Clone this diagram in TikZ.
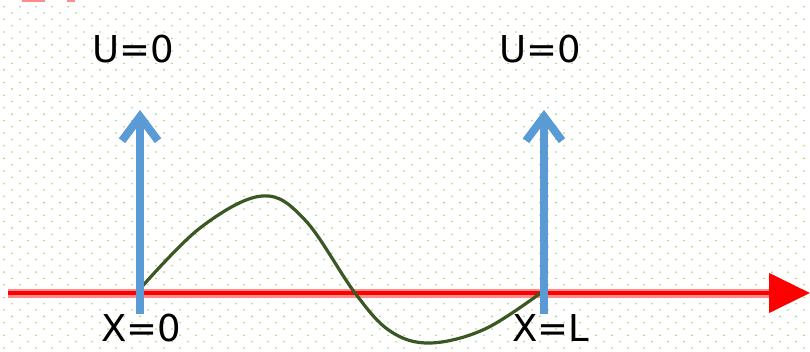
\documentclass[tikz,border=0pt]{standalone}
\usepackage{fontspec}
\setmainfont{DejaVu Sans}
\usetikzlibrary{arrows.meta}
\definecolor{dotgreen}{RGB}{160,214,110}
\definecolor{curvegreen}{RGB}{58,88,34}
\definecolor{arrowblue}{RGB}{91,155,213}
\definecolor{axisred}{RGB}{255,0,0}
\definecolor{halored}{RGB}{255,140,140}
\tikzset{
  lbl/.style={font=\fontsize{37}{39}\selectfont, text=black, inner sep=0pt, anchor=base},
  bcstick/.style={draw=arrowblue, line width=8pt, -{Straight Barb[length=24pt 0 0,width=36pt 0 0]}},
  wave/.style={draw=curvegreen, line width=3.2pt},
}
\begin{document}
\begin{tikzpicture}[x=1pt,y=-1pt]
\useasboundingbox (0,0) rectangle (810,352);
\fill[white] (0,0) rectangle (810,352);
% dotted background
\foreach \r in {0,...,55}{
  \pgfmathsetmacro{\yy}{6.7+6.32*\r}
  \pgfmathsetmacro{\xo}{mod(\r,2)==0 ? 4 : 12}
  \foreach \c in {0,...,50}{
    \fill[dotgreen] (\xo+16*\c,\yy) circle (0.9);
  }
}
% pink fragment at top
\fill[halored] (22,0) rectangle (45,2.2);
\fill[halored] (67,0) rectangle (75,2.2);
% axis
\coordinate (ax0) at (8,293);
\coordinate (ax1) at (810,293);
\coordinate (axh) at (772,293);
\draw[halored, line width=9pt] (ax0) -- (axh);
\draw[axisred, line width=4.5pt, -{Triangle[length=41pt 0 0,width=39pt 0 0]}] (ax0) -- (ax1);
% wave
\draw[wave] plot[smooth, tension=0.6] coordinates {(139,290) (200,228) (262,196) (305,220) (355,293) (390,331) (430,343) (485,329) (542,292)};
% boundary arrows
\coordinate (la0) at (140,314);
\coordinate (la1) at (140,110);
\coordinate (ra0) at (544,314);
\coordinate (ra1) at (544,110);
\draw[bcstick] (la0) -- (la1);
\draw[bcstick] (ra0) -- (ra1);
% labels
\node[lbl] (u1) at (133,63) {U=0};
\node[lbl] (u2) at (540,63) {U=0};
\node[lbl] (x1) at (141,341) {X=0};
\node[lbl] (x2) at (551,341) {X=L};
\end{tikzpicture}
\end{document}
